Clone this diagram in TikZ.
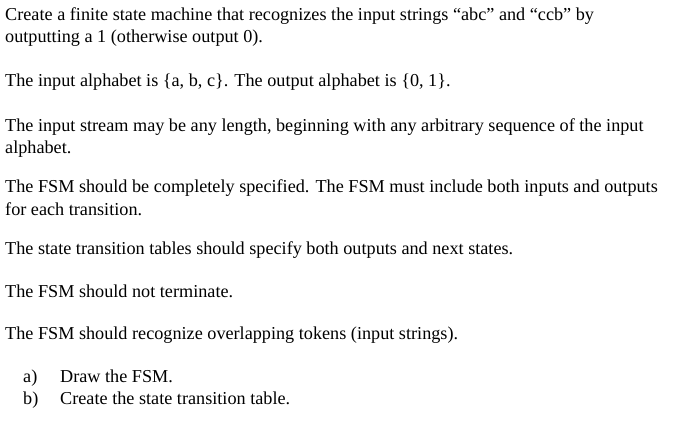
\documentclass[tikz,border=0pt]{standalone}
\usepackage{fontspec}
\setmainfont{Liberation Serif}
\tikzset{txt/.style={anchor=base west,inner sep=0pt,font=\fontsize{18.2}{20}\selectfont}}
\def\ln#1#2#3{\node[txt] (#1) at (5pt,-#2pt) {#3};}

\begin{document}
\begin{tikzpicture}
\useasboundingbox (0,0) rectangle (682pt,-422pt);
\ln{qa}{21}{Create a finite state machine that recognizes the input strings “abc” and “ccb” by}
\ln{qb}{43}{outputting a 1 (otherwise output 0).}
\ln{alpha}{87}{The input alphabet is \{a, b, c\}. The output alphabet is \{0, 1\}.}
\ln{streama}{132}{The input stream may be any length, beginning with any arbitrary sequence of the input}
\ln{streamb}{154}{alphabet.}
\ln{speca}{193}{The FSM should be completely specified. The FSM must include both inputs and outputs}
\ln{specb}{215}{for each transition.}
\ln{table}{254}{The state transition tables should specify both outputs and next states.}
\ln{term}{297}{The FSM should not terminate.}
\ln{overlap}{339}{The FSM should recognize overlapping tokens (input strings).}
\node[txt] (parta) at (23pt,-382pt) {a)\makebox[37pt][l]{}};
\node[txt] (partb) at (23pt,-404pt) {b)};
\node[txt] (drawfsm) at (60pt,-382pt) {Draw the FSM.};
\node[txt] (mktable) at (60pt,-404pt) {Create the state transition table.};
\end{tikzpicture}
\end{document}
